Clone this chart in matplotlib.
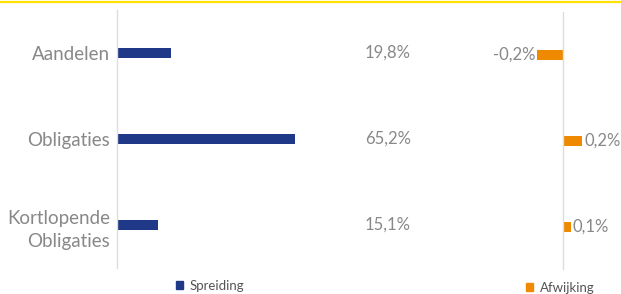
import matplotlib.pyplot as plt
from matplotlib.patches import Patch
from matplotlib.lines import Line2D

# data
categories = ["Aandelen", "Obligaties", "Kortlopende\nObligaties"]
spreiding = [19.8, 65.2, 15.1]
afwijking = [-0.24, 0.18, 0.07]

blue = "#1f3887"
orange = "#ef8a00"
grey_txt = "#888888"
grid_col = "#dddddd"

plt.rcParams["font.family"] = ["Lato", "DejaVu Sans"]

W, H = 621, 294
fig = plt.figure(figsize=(W / 100, H / 100), dpi=100)

def box(x0, y0, x1, y1):
    # pixel box (top-left origin) -> figure fraction
    return [x0 / W, 1 - y1 / H, (x1 - x0) / W, (y1 - y0) / H]

# 1. Spreiding panel
px_per_unit = 2.73
ax1 = fig.add_axes(box(117, 10, 340, 268))
ax1.set_xlim(0, 223 / px_per_unit)
ax1.set_ylim(2.5, -0.5)
ypos = range(len(categories))
ax1.barh(ypos, spreiding, height=0.115, color=blue)
ax1.set_yticks(list(ypos))
ax1.set_yticklabels(categories, fontsize=13.5, color=grey_txt,
                    linespacing=1.45)
ax1.tick_params(axis="y", length=0, pad=5)
ax1.set_xticks([])
for s in ["top", "right", "bottom"]:
    ax1.spines[s].set_visible(False)
ax1.spines["left"].set_color(grid_col)
ax1.spines["left"].set_linewidth(1)
for i, v in enumerate(spreiding):
    ax1.text((365 - 117) / px_per_unit, i, f"{v:.1f}%".replace(".", ","),
             va="center", ha="left", fontsize=12, color=grey_txt,
             clip_on=False)

# 2. Afwijking panel
px2 = 108
ax2 = fig.add_axes(box(470, 12, 621, 270))
ax2.set_xlim((470 - 563) / px2, (621 - 563) / px2)
ax2.set_ylim(2.5, -0.5)
ax2.barh(ypos, afwijking, height=0.115, color=orange)
ax2.axvline(0, color=grid_col, linewidth=1)
ax2.axis("off")
for i, v in enumerate(afwijking):
    lab = f"{v:.1f}%".replace(".", ",")
    off = 2 / px2
    if v < 0:
        ax2.text(v - off, i, lab, va="center", ha="right", fontsize=12,
                 color=grey_txt, clip_on=False)
    else:
        ax2.text(v + off, i, lab, va="center", ha="left", fontsize=12,
                 color=grey_txt, clip_on=False)

# legends
leg_kw = dict(loc="center left", frameon=False, fontsize=9.5, handlelength=0.55,
              handleheight=0.55, handletextpad=0.5, borderpad=0, borderaxespad=0,
              labelcolor="#555555")
fig.legend(handles=[Patch(color=blue, label="Spreiding")],
           bbox_to_anchor=(176 / W, 1 - 286 / H), **leg_kw)
fig.legend(handles=[Patch(color=orange, label="Afwijking")],
           bbox_to_anchor=(526 / W, 1 - 288 / H), **leg_kw)

# yellow top line
fig.add_artist(Line2D([0, 1], [1 - 2 / H, 1 - 2 / H], color="#ffe100",
                      linewidth=1.6, transform=fig.transFigure))

fig.savefig("out.png", dpi=100)
